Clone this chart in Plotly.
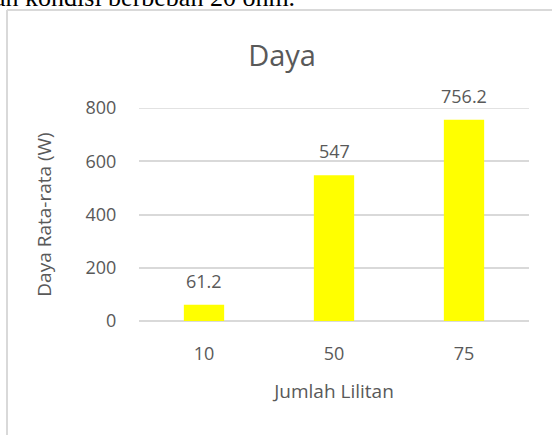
import plotly.graph_objects as go

categories = ["10", "50", "75"]
values = [61.2, 547, 756.2]
value_labels = ["61.2", "547", "756.2"]
y_ticks = [0, 200, 400, 600, 800]

FONT = "Open Sans"
GRAY = "#595959"

fig = go.Figure()
fig.add_trace(go.Bar(
    x=categories, y=values,
    marker=dict(color="#FFFF00", line=dict(width=0)),
    width=0.31,
    hoverinfo="skip",
))

annotations = []
for i, (v, t) in enumerate(zip(values, value_labels)):
    annotations.append(dict(
        x=i, y=v, xref="x", yref="y", text=t, showarrow=False,
        yanchor="bottom", yshift=10,
        font=dict(family=FONT, size=18, color=GRAY),
    ))
# clipped line of document text above the chart
annotations.append(dict(
    x=0.405, y=1.443, xref="paper", yref="paper",
    text="dan kondisi berbeban 20 ohm.", showarrow=False,
    xanchor="right", yanchor="bottom",
    font=dict(family="Liberation Serif", size=26, color="#000000"),
))

left = -0.3385
top = 1.46
shapes = [
    dict(type="line", xref="paper", yref="paper", x0=left, x1=left, y0=top, y1=-1,
         line=dict(color="#d9d9d9", width=2)),
    dict(type="line", xref="paper", yref="paper", x0=left, x1=1.2, y0=top, y1=top,
         line=dict(color="#d9d9d9", width=2)),
    dict(type="line", xref="paper", yref="y", x0=0, x1=1, y0=800, y1=800,
         line=dict(color="#d9d9d9", width=1.5), layer="below"),
]

fig.update_layout(
    width=552, height=435,
    margin=dict(l=139, r=23, t=108, b=114, autoexpand=False),
    paper_bgcolor="white", plot_bgcolor="white",
    showlegend=False,
    font=dict(family=FONT, color=GRAY),
    title=dict(text="Daya", x=0.511, xref="container", xanchor="center",
               y=1 - 56 / 435, yref="container", yanchor="middle",
               font=dict(family=FONT, size=29, color=GRAY)),
    annotations=annotations,
    shapes=shapes,
    xaxis=dict(
        type="category", range=[-0.5, 2.5], automargin=False,
        categoryorder="array", categoryarray=categories,
        showgrid=False, showline=False, zeroline=False,
        ticks="outside", ticklen=16, tickcolor="rgba(0,0,0,0)",
        tickfont=dict(family=FONT, size=18, color=GRAY),
        title=dict(text="Jumlah Lilitan", standoff=21,
                   font=dict(family=FONT, size=19, color=GRAY)),
    ),
    yaxis=dict(
        range=[0, 800], tickvals=y_ticks, automargin=False,
        showgrid=True, gridcolor="#d9d9d9", gridwidth=1.5,
        zeroline=True, zerolinecolor="#d9d9d9", zerolinewidth=1.5,
        showline=False,
        ticks="outside", ticklen=18, tickcolor="rgba(0,0,0,0)",
        tickfont=dict(family=FONT, size=18, color=GRAY),
        title=dict(text="Daya Rata-rata (W)", standoff=28,
                   font=dict(family=FONT, size=19, color=GRAY)),
    ),
)

fig.write_html(
    "out.html",
    config={"displayModeBar": False},
    post_script="document.body.style.margin='0';document.body.style.overflow='hidden';",
)
